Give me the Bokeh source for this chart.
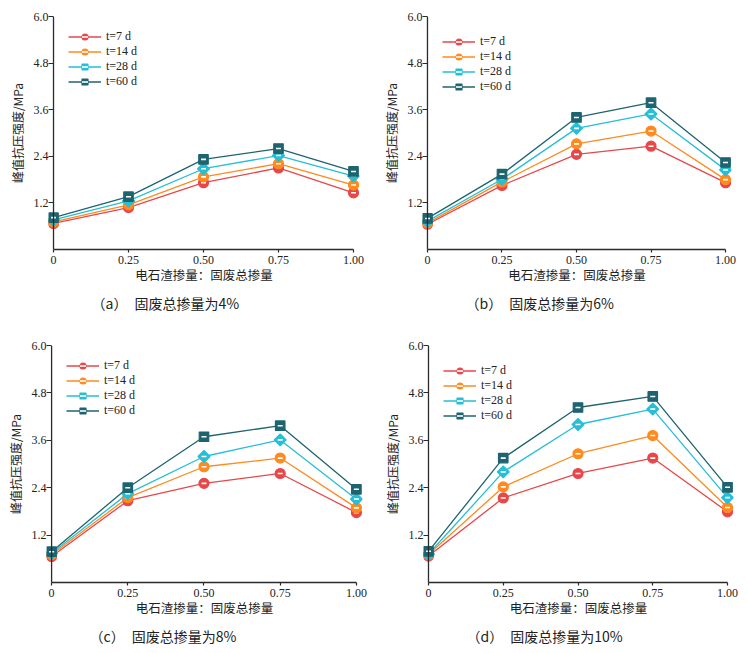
from bokeh.plotting import figure
from bokeh.layouts import row, column
from bokeh.models import Range1d, FixedTicker, CustomJSTickFormatter, NumeralTickFormatter, Legend, LegendItem, Span
from bokeh.embed import file_html
from bokeh.resources import INLINE
import math

# ---------------- data ----------------
ratio = [0.0, 0.25, 0.50, 0.75, 1.00]          # 电石渣掺量：固废总掺量
x_ticks = [0.0, 0.25, 0.50, 0.75, 1.00]
y_ticks = [1.2, 2.4, 3.6, 4.8, 6.0]
ages = ["t=7 d", "t=14 d", "t=28 d", "t=60 d"]

# (a) 固废总掺量为4%
a_t7 = [0.67, 1.08, 1.72, 2.10, 1.46]
a_t14 = [0.71, 1.15, 1.87, 2.21, 1.66]
a_t28 = [0.76, 1.25, 2.08, 2.42, 1.89]
a_t60 = [0.82, 1.36, 2.32, 2.60, 2.01]
# (b) 固废总掺量为6%
b_t7 = [0.65, 1.65, 2.45, 2.66, 1.72]
b_t14 = [0.68, 1.74, 2.72, 3.05, 1.80]
b_t28 = [0.73, 1.81, 3.12, 3.49, 2.05]
b_t60 = [0.80, 1.94, 3.40, 3.78, 2.24]
# (c) 固废总掺量为8%
c_t7 = [0.66, 2.07, 2.51, 2.76, 1.77]
c_t14 = [0.70, 2.15, 2.93, 3.15, 1.89]
c_t28 = [0.74, 2.25, 3.19, 3.61, 2.11]
c_t60 = [0.78, 2.40, 3.69, 3.97, 2.36]
# (d) 固废总掺量为10%
d_t7 = [0.67, 2.14, 2.76, 3.15, 1.79]
d_t14 = [0.71, 2.42, 3.26, 3.72, 1.90]
d_t28 = [0.72, 2.80, 4.00, 4.39, 2.15]
d_t60 = [0.79, 3.15, 4.43, 4.71, 2.41]

captions = ["（a）　固废总掺量为4%", "（b）　固废总掺量为6%",
            "（c）　固废总掺量为8%", "（d）　固废总掺量为10%"]
x_label = "电石渣掺量：固废总掺量"
y_label = "峰值抗压强度/MPa"

panels = [
    [a_t7, a_t14, a_t28, a_t60],
    [b_t7, b_t14, b_t28, b_t60],
    [c_t7, c_t14, c_t28, c_t60],
    [d_t7, d_t14, d_t28, d_t60],
]

# ---------------- style ----------------
colors = ["#E8474A", "#FF8A1E", "#25BFD6", "#1E6470"]
markers = ["circle", "circle", "square", "square"]
angles = [0.0, 0.0, math.pi / 4, 0.0]
msizes = [10, 10, 8.5, 9.5]

CJK = "Noto Sans CJK SC"
SERIF = "Liberation Serif"
AXIS_COLOR = "#2a2a2a"

# width, height, border left/right/top/bottom
geom = [
    dict(w=374, h=325, bl=48, br=15, bt=13, bb=74),
    dict(w=374, h=325, bl=48, br=17, bt=16, bb=76),
    dict(w=374, h=328, bl=46, br=12, bt=16, bb=70),
    dict(w=374, h=328, bl=49, br=15, bt=20, bb=71),
]


def make_panel(series, caption, g):
    p = figure(width=g["w"], height=g["h"], output_backend="svg", toolbar_location=None,
               x_range=Range1d(-0.0167, 1.02), y_range=Range1d(0, 6.0),
               min_border_left=g["bl"], min_border_right=g["br"],
               min_border_top=g["bt"], min_border_bottom=g["bb"],
               title=caption, title_location="below")
    p.outline_line_color = None
    p.xgrid.visible = False
    p.ygrid.visible = False
    p.background_fill_color = "white"
    p.border_fill_color = "white"

    for ax in (p.xaxis[0], p.yaxis[0]):
        ax.axis_line_color = AXIS_COLOR
        ax.axis_line_width = 1.3
        ax.major_tick_line_color = AXIS_COLOR
        ax.major_tick_line_width = 1.2
        ax.minor_tick_line_color = None
        ax.major_label_text_font = SERIF
        ax.major_label_text_font_size = "12px"
        ax.major_label_text_color = "#222222"
        ax.axis_label_text_font = CJK
        ax.axis_label_text_font_style = "normal"
        ax.axis_label_text_color = "#222222"

    xa = p.xaxis[0]
    xa.ticker = FixedTicker(ticks=x_ticks)
    xa.formatter = CustomJSTickFormatter(code="return tick == 0 ? '0' : tick.toFixed(2);")
    xa.bounds = (0, 1)
    xa.major_tick_in = 0
    xa.major_tick_out = 3
    xa.major_label_standoff = 3
    xa.axis_label = x_label
    xa.axis_label_text_font_size = "12.5px"
    xa.axis_label_standoff = -2

    # y axis: the frame starts a few pixels left of x = 0, the axis line is drawn at x = 0
    ya = p.yaxis[0]
    ya.ticker = FixedTicker(ticks=y_ticks)
    ya.formatter = NumeralTickFormatter(format="0.0")
    ya.axis_line_color = None
    ya.major_tick_in = 5
    ya.major_tick_out = 0
    ya.major_label_standoff = 0
    ya.axis_label = y_label
    ya.axis_label_text_font_size = "12px"
    ya.axis_label_standoff = 5
    p.add_layout(Span(location=0, dimension="height", line_color=AXIS_COLOR, line_width=1.3))

    p.title.text_font = CJK
    p.title.text_font_size = "14px"
    p.title.text_font_style = "normal"
    p.title.text_color = "#222222"
    p.title.align = "left"
    p.title.offset = 43
    try:
        p.title.standoff = 8
    except Exception:
        pass

    items = []
    for vals, name, col, mk, ang, ms in zip(series, ages, colors, markers, angles, msizes):
        lr = p.line(ratio, vals, line_color=col, line_width=1.3)
        sr = p.scatter(ratio, vals, marker=mk, size=ms, angle=ang,
                       fill_color=col, line_color=col, line_width=1.2)
        dr = p.scatter(ratio, vals, marker="dash", size=5, line_color="white", line_width=1.6)
        items.append(LegendItem(label=name, renderers=[lr, sr, dr]))

    fh = g["h"] - g["bt"] - g["bb"]
    leg = Legend(items=items, location=(20, fh - 18 - 60),
                 background_fill_alpha=0, border_line_color=None,
                 padding=0, margin=0, spacing=0,
                 glyph_width=33, glyph_height=15, label_height=15, label_standoff=5,
                 label_text_font=SERIF, label_text_font_size="12px",
                 label_text_color="#222222")
    p.add_layout(leg)
    return p


figs = [make_panel(s, c, g) for s, c, g in zip(panels, captions, geom)]
layout = column(row(figs[0], figs[1]), row(figs[2], figs[3]))

open("out.html", "w").write(file_html(layout, INLINE))
